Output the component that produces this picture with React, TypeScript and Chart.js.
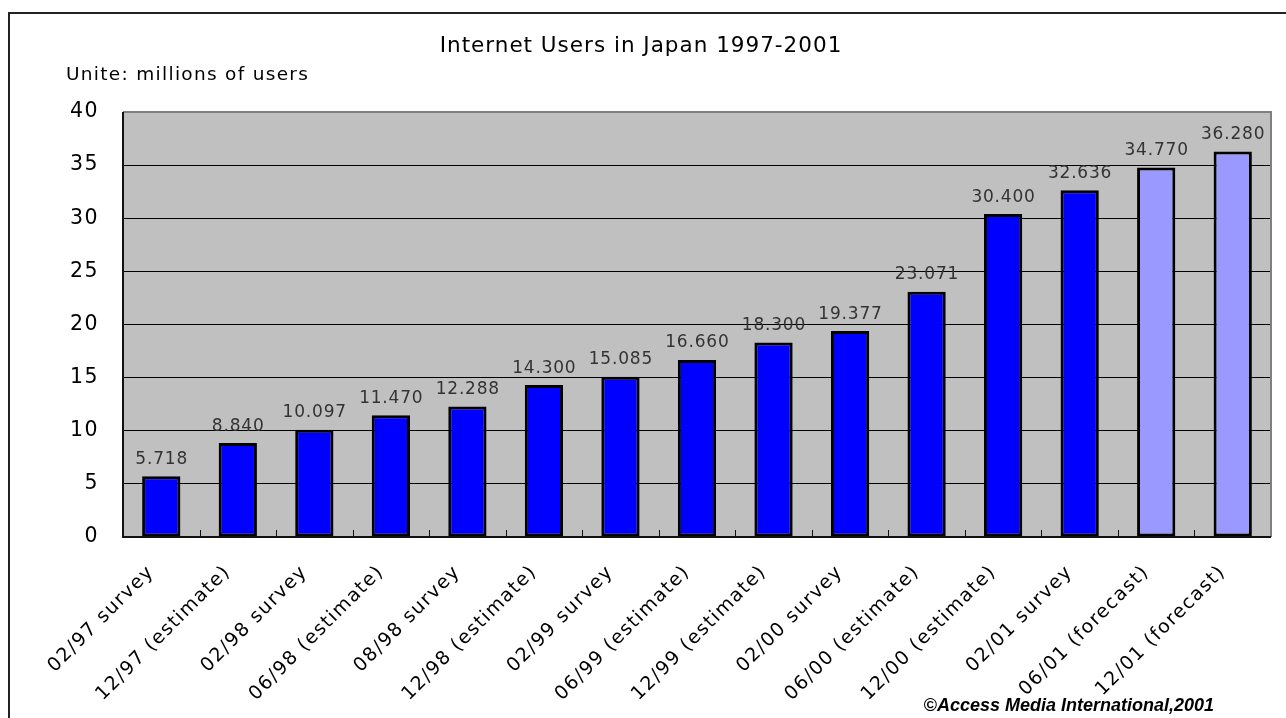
import React, { useEffect, useRef } from "react";
import { Chart, registerables } from "chart.js";

Chart.register(...registerables);

const categories = [
  "02/97 survey",
  "12/97 (estimate)",
  "02/98 survey",
  "06/98 (estimate)",
  "08/98 survey",
  "12/98 (estimate)",
  "02/99 survey",
  "06/99 (estimate)",
  "12/99 (estimate)",
  "02/00 survey",
  "06/00 (estimate)",
  "12/00 (estimate)",
  "02/01 survey",
  "06/01 (forecast)",
  "12/01 (forecast)",
];
const users = [5.718, 8.84, 10.097, 11.47, 12.288, 14.3, 15.085, 16.66, 18.3, 19.377, 23.071, 30.4, 32.636, 34.77, 36.28];
const valueLabels = ["5.718", "8.840", "10.097", "11.470", "12.288", "14.300", "15.085", "16.660", "18.300", "19.377", "23.071", "30.400", "32.636", "34.770", "36.280"];
const isForecast = [false, false, false, false, false, false, false, false, false, false, false, false, false, true, true];

const titleText = "Internet Users in Japan 1997-2001";
const subtitleText = "Unite: millions of users";
const footerText = "\u00A9Access Media International,2001";

const FONT = "'DejaVu Sans', sans-serif";

export default function App() {
  const ref = useRef<HTMLCanvasElement | null>(null);

  useEffect(() => {
    document.body.style.margin = "0";
    const canvas = ref.current;
    if (!canvas) return;

    const decor = {
      id: "decor",
      beforeDraw(chart: any) {
        const { ctx, chartArea } = chart;
        ctx.save();
        ctx.fillStyle = "#ffffff";
        ctx.fillRect(0, 0, chart.width, chart.height);
        // outer frame
        ctx.strokeStyle = "#222222";
        ctx.lineWidth = 2;
        ctx.beginPath();
        ctx.moveTo(9, 718);
        ctx.lineTo(9, 13);
        ctx.lineTo(1286, 13);
        ctx.stroke();
        // plot background
        ctx.fillStyle = "#C0C0C0";
        ctx.fillRect(chartArea.left, chartArea.top, chartArea.right - chartArea.left, chartArea.bottom - chartArea.top);
        // titles
        ctx.fillStyle = "#000000";
        ctx.textBaseline = "alphabetic";
        ctx.textAlign = "center";
        (ctx as any).letterSpacing = "1px";
        ctx.font = `21.5px ${FONT}`;
        ctx.fillText(titleText, 641, 52);
        ctx.textAlign = "left";
        (ctx as any).letterSpacing = "1.3px";
        ctx.font = `18.5px ${FONT}`;
        ctx.fillText(subtitleText, 66, 80);
        ctx.restore();
        // letter spacing used by the axis tick labels
        (ctx as any).letterSpacing = "1.4px";
      },
      afterDatasetsDraw(chart: any) {
        const { ctx, chartArea } = chart;
        const xs = chart.scales.x;
        ctx.save();
        // border top & right gray
        ctx.strokeStyle = "#808080";
        ctx.lineWidth = 2;
        ctx.beginPath();
        ctx.moveTo(chartArea.left, chartArea.top);
        ctx.lineTo(chartArea.right, chartArea.top);
        ctx.lineTo(chartArea.right, chartArea.bottom);
        ctx.stroke();
        // axes left & bottom
        ctx.strokeStyle = "#111111";
        ctx.beginPath();
        ctx.moveTo(chartArea.left, chartArea.top);
        ctx.lineTo(chartArea.left, chartArea.bottom);
        ctx.lineTo(chartArea.right, chartArea.bottom);
        ctx.stroke();
        // inward tick marks at category boundaries
        ctx.lineWidth = 1;
        const step = xs.getPixelForValue(1) - xs.getPixelForValue(0);
        ctx.beginPath();
        for (let i = 1; i < categories.length; i++) {
          const x = Math.round(xs.getPixelForValue(i) - step / 2) + 0.5;
          ctx.moveTo(x, chartArea.bottom);
          ctx.lineTo(x, chartArea.bottom - 7);
        }
        ctx.stroke();
        // value labels
        const meta = chart.getDatasetMeta(0);
        ctx.fillStyle = "#333333";
        (ctx as any).letterSpacing = "0.8px";
        ctx.font = `17px ${FONT}`;
        ctx.textAlign = "center";
        ctx.textBaseline = "alphabetic";
        meta.data.forEach((bar: any, i: number) => {
          ctx.fillText(valueLabels[i], bar.x + 0.4, bar.y - 12.5);
        });
        // footer
        ctx.fillStyle = "#000000";
        (ctx as any).letterSpacing = "0px";
        ctx.font = `italic bold 18px 'Liberation Sans', Arial, sans-serif`;
        ctx.textAlign = "right";
        ctx.fillText(footerText, 1214, 711);
        ctx.restore();
      },
    };

    const chart = new Chart(canvas, {
      type: "bar",
      data: {
        labels: categories,
        datasets: [
          {
            data: users,
            backgroundColor: isForecast.map((f) => (f ? "#9999FF" : "#0000FF")),
            borderColor: "#000000",
            borderWidth: 3,
            borderSkipped: false,
            barPercentage: 0.5,
            categoryPercentage: 1,
          },
        ],
      },
      options: {
        animation: false,
        responsive: false,
        maintainAspectRatio: false,
        layout: { padding: { top: 112, right: 15, left: 0, bottom: 0 } },
        plugins: {
          legend: { display: false },
          title: { display: false },
          tooltip: { enabled: false },
        },
        scales: {
          x: {
            offset: true,
            grid: { display: false },
            border: { display: false },
            ticks: {
              autoSkip: false,
              maxRotation: 45,
              minRotation: 45,
              color: "#000000",
              font: { family: FONT, size: 19 },
              padding: 16,
              labelOffset: -10,
            },
            afterFit(scale: any) {
              scale.height = 181;
            },
          },
          y: {
            min: 0,
            max: 40,
            ticks: {
              stepSize: 5,
              color: "#000000",
              font: { family: FONT, size: 20.5 },
              padding: 24,
            },
            grid: {
              color: (c: any) => (c.tick && (c.tick.value === 0 || c.tick.value === 40) ? "rgba(0,0,0,0)" : "#000000"),
              lineWidth: 1,
              drawTicks: false,
            },
            border: { display: false },
            afterFit(scale: any) {
              scale.width = 123;
            },
          },
        },
      },
      plugins: [decor],
    });

    return () => chart.destroy();
  }, []);

  return <canvas ref={ref} width={1286} height={718} style={{ display: "block", width: 1286, height: 718 }} />;
}
